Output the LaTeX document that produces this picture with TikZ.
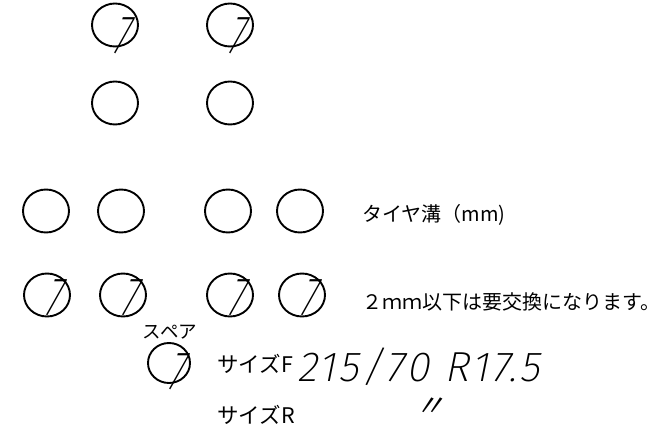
\documentclass[tikz,border=0pt]{standalone}
\usepackage{fontspec}
\usetikzlibrary{shapes.geometric}
\newfontfamily\jp{Noto Sans CJK JP}
\newfontfamily\jpslant{Noto Sans CJK JP}[FakeSlant=0.3]
\IfFontExistsTF{Fira Sans ExtraLight}{\def\handname{Fira Sans ExtraLight}}{%
 \IfFontExistsTF{DejaVu Sans ExtraLight}{\def\handname{DejaVu Sans ExtraLight}}{%
  \IfFontExistsTF{Fira Sans Light}{\def\handname{Fira Sans Light}}{%
   \IfFontExistsTF{Lato Light}{\def\handname{Lato Light}}{%
    \def\handname{Liberation Sans}}}}}
\newfontfamily\hand{\handname}[FakeSlant=0.2, LetterSpace=7]
\newfontfamily\sevenfont{\handname}[FakeSlant=0.3, FakeStretch=0.62]
\begin{document}
\begin{tikzpicture}[x=1pt,y=-1pt,
  tyre/.style={draw, line width=1.9pt, ellipse, minimum width=46pt, minimum height=43pt, inner sep=0pt},
  seven/.style={font=\sevenfont\fontsize{54}{54}\selectfont, inner sep=0pt},
  jtext/.style={font=\jp\fontsize{20}{22}\selectfont, inner sep=0pt, anchor=west},
  handtext/.style={font=\hand\fontsize{42}{42}\selectfont, inner sep=0pt}]
\useasboundingbox (0,0) rectangle (663,430);
% top row (with 7)
\node[tyre] (t1) at (115,25) {};
\node[tyre] (t2) at (230,25) {};
\node[seven] (t1s) at (119,36) {7};
\node[seven] (t2s) at (234,36) {7};
% second row
\node[tyre] (u1) at (115,103) {};
\node[tyre] (u2) at (230,103) {};
% third row
\node[tyre] (m1) at (46,211) {};
\node[tyre] (m2) at (121,211) {};
\node[tyre] (m3) at (228,211) {};
\node[tyre] (m4) at (300,211) {};
% fourth row (with 7)
\node[tyre] (b1) at (47,295) {};
\node[tyre] (b2) at (123,295) {};
\node[tyre] (b3) at (230,295) {};
\node[tyre] (b4) at (302,295) {};
\node[seven] (b1s) at (51,298) {7};
\node[seven] (b2s) at (127,298) {7};
\node[seven] (b3s) at (234,298) {7};
\node[seven] (b4s) at (306,298) {7};
% spare
\node[font=\jp\fontsize{18.5}{20}\selectfont, inner sep=0pt] (spl) at (170,332) {スペア};
\node[tyre, minimum width=42pt, minimum height=40pt] (sp) at (169,363) {};
\node[seven] (sps) at (174,372) {7};
% texts
\node[jtext] (groove) at (362,215) {タイヤ溝（mm)};
\node[jtext] (warn) at (362,302) {２ｍｍ以下は要交換になります。};
\node[jtext, font=\jp\fontsize{21.5}{22}\selectfont] (sizef) at (217,364) {サイズF};
\node[jtext, font=\jp\fontsize{21.5}{22}\selectfont] (sizer) at (217,415) {サイズR};
\node[handtext, anchor=west] (spec) at (297,367) {215/70 R17.5};
\node[font=\jpslant\fontsize{30}{30}\selectfont, inner sep=0pt] (ditto) at (429,407) {〃};
\end{tikzpicture}
\end{document}
